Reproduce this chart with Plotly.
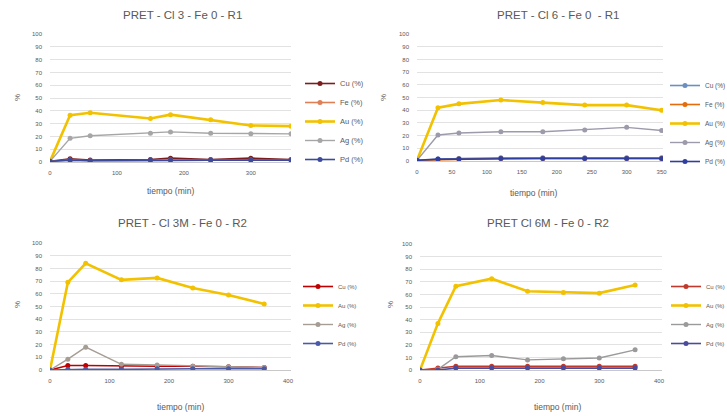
import plotly.graph_objects as go

W, H = 727, 416

# ---------------- data ----------------
titles = ["PRET - Cl 3 - Fe 0 - R1", "PRET - Cl 6 - Fe 0  - R1",
          "PRET - Cl 3M - Fe 0 - R2", "PRET Cl 6M - Fe 0 - R2"]
x_title = "tiempo (min)"
y_title = "%"

# Chart 1 (top-left)
t1 = [0, 30, 60, 150, 180, 240, 300, 360]
cu1 = [0.5, 2.5, 1.5, 2, 3, 2, 3, 2]
fe1 = [0.5, 1.5, 1, 1.5, 1.5, 1.5, 1.5, 1.5]
au1 = [0.5, 36.5, 38.5, 34, 37, 33, 28.5, 28]
ag1 = [0.5, 18.5, 20.5, 22.5, 23.5, 22.5, 22, 22]
pd1 = [0.5, 1.5, 1, 1.5, 1.5, 1.5, 1.5, 1.5]

# Chart 2 (top-right)
t2 = [0, 30, 60, 120, 180, 240, 300, 350]
cu2 = [0.5, 1.5, 2, 2.5, 2.5, 2.5, 2.5, 2.5]
fe2 = [0.5, 1, 1.5, 2, 2, 2, 2, 2]
au2 = [0.5, 42, 45, 48, 46, 44, 44, 40]
ag2 = [0.5, 20.5, 22, 23, 23, 24.5, 26.5, 24]
pd2 = [0.5, 1.5, 1.5, 2, 2, 2, 2, 2]

# Chart 3 (bottom-left)
t3 = [0, 30, 60, 120, 180, 240, 300, 360]
cu3 = [0, 3.5, 3.5, 3, 3, 3, 2.5, 2]
au3 = [0, 69, 84, 71, 72.5, 64.5, 59, 52]
ag3 = [0, 8.5, 18, 4.5, 4, 3, 2.5, 2]
pd3 = [0, 0.5, 0.5, 0.5, 1, 1, 1, 1]

# Chart 4 (bottom-right)
t4 = [0, 30, 60, 120, 180, 240, 300, 360]
cu4 = [0, 1.5, 3, 3, 3, 3, 3, 3]
au4 = [0, 37, 66.5, 72.5, 62.5, 61.5, 61, 67.5]
ag4 = [0, 0.5, 10.5, 11.5, 8, 9, 9.5, 16]
pd4 = [0, 0, 1.5, 1.5, 1.5, 1.5, 1.5, 1.5]

y_ticks = list(range(0, 101, 10))
x_ticks1 = [0, 100, 200, 300]
x_ticks2 = [0, 50, 100, 150, 200, 250, 300, 350]
x_ticks3 = [0, 100, 200, 300, 400]
x_ticks4 = [0, 100, 200, 300, 400]

charts = [
    dict(t=t1, series=[("Cu (%)", cu1, "#7d1c1c", 1.6), ("Fe (%)", fe1, "#de7f55", 1.6),
                       ("Au (%)", au1, "#f2c200", 2.6), ("Ag (%)", ag1, "#a6a6a6", 1.4),
                       ("Pd (%)", pd1, "#3b4a9c", 1.6)],
         xt=x_ticks1, xr=[0, 360], dom=(50, 291, 34, 162), leg=(300, 69, 7.5),
         title=(182, 15), xtitle=(170, 191), ytitle=(17, 98)),
    dict(t=t2, series=[("Cu (%)", cu2, "#6a8fc0", 1.6), ("Fe (%)", fe2, "#e46c0a", 1.6),
                       ("Au (%)", au2, "#f2c200", 2.6), ("Ag (%)", ag2, "#9d9aab", 1.4),
                       ("Pd (%)", pd2, "#2f3f9f", 1.6)],
         xt=x_ticks2, xr=[0, 352], dom=(417, 663, 34, 161), leg=(665, 71, 6.5),
         title=(558, 15), xtitle=(533, 193), ytitle=(383, 98)),
    dict(t=t3, series=[("Cu (%)", cu3, "#c00000", 1.6), ("Au (%)", au3, "#f2c200", 2.6),
                       ("Ag (%)", ag3, "#a59d94", 1.4), ("Pd (%)", pd3, "#4a5aa8", 1.6)],
         xt=x_ticks3, xr=[0, 405], dom=(50, 291, 243, 370), leg=(298, 315, 6),
         title=(182, 223), xtitle=(180, 407), ytitle=(17, 305)),
    dict(t=t4, series=[("Cu (%)", cu4, "#c0392b", 1.6), ("Au (%)", au4, "#f2c200", 2.6),
                       ("Ag (%)", ag4, "#9a9a9a", 1.4), ("Pd (%)", pd4, "#4b4b9b", 1.6)],
         xt=x_ticks4, xr=[0, 405], dom=(420, 662, 244, 370), leg=(666, 315, 6),
         title=(548, 223), xtitle=(557, 407), ytitle=(390, 305)),
]

FONT = "Liberation Sans"
TXT = "#595959"

fig = go.Figure()
layout = dict(
    width=W, height=H, margin=dict(l=0, r=0, t=0, b=0, autoexpand=False),
    paper_bgcolor="white", plot_bgcolor="white",
    font=dict(family=FONT, color=TXT), showlegend=True, annotations=[],
)

for i, c in enumerate(charts):
    n = "" if i == 0 else str(i + 1)
    xa, ya = "x" + n, "y" + n
    legname = "legend" + n
    for name, vals, col, lw in c["series"]:
        fig.add_trace(go.Scatter(
            x=c["t"], y=vals, name=name, mode="lines+markers",
            xaxis=xa, yaxis=ya, legend=legname,
            line=dict(color=col, width=lw),
            marker=dict(color=col, size=5, symbol="circle"),
        ))
    x0, x1, ytop, ybot = c["dom"]
    layout["xaxis" + n] = dict(
        domain=[x0 / W, x1 / W], range=c["xr"], anchor=ya,
        tickmode="array", tickvals=c["xt"], showgrid=False, zeroline=False,
        showline=True, linecolor="#c8c8c8", linewidth=1, ticks="",
        tickfont=dict(size=6, color=TXT), ticklabelstandoff=5,
    )
    layout["yaxis" + n] = dict(
        domain=[1 - ybot / H, 1 - ytop / H], range=[0, 100], anchor=xa,
        tickmode="array", tickvals=y_ticks, showgrid=True, gridcolor="#e2e2e2",
        gridwidth=1, zeroline=False, showline=False, ticks="",
        tickfont=dict(size=6, color=TXT), ticklabelstandoff=7,
    )
    lx, ly, lfs = c["leg"]
    layout[legname] = dict(
        x=lx / W, y=1 - ly / H, xanchor="left",
        yanchor="top" if i < 2 else "middle",
        bgcolor="rgba(0,0,0,0)", borderwidth=0,
        font=dict(size=lfs, color=TXT, family=FONT), itemwidth=30,
        tracegroupgap=0,
    )
    tx, ty = c["title"]
    layout["annotations"].append(dict(
        text=titles[i], x=tx / W, y=1 - ty / H, xref="paper", yref="paper",
        showarrow=False, font=dict(size=11.5, color=TXT), xanchor="center", yanchor="middle"))
    xtx, xty = c["xtitle"]
    layout["annotations"].append(dict(
        text=x_title, x=xtx / W, y=1 - xty / H, xref="paper", yref="paper",
        showarrow=False, font=dict(size=8.5, color=TXT), xanchor="center", yanchor="middle"))
    ytx, yty = c["ytitle"]
    layout["annotations"].append(dict(
        text=y_title, x=ytx / W, y=1 - yty / H, xref="paper", yref="paper",
        showarrow=False, font=dict(size=8, color=TXT), xanchor="center", yanchor="middle",
        textangle=-90))

fig.update_layout(**layout)
fig.write_html(
    "out.html",
    config={"displayModeBar": False},
    post_script="document.body.style.margin='0';document.body.style.overflow='hidden';",
)
